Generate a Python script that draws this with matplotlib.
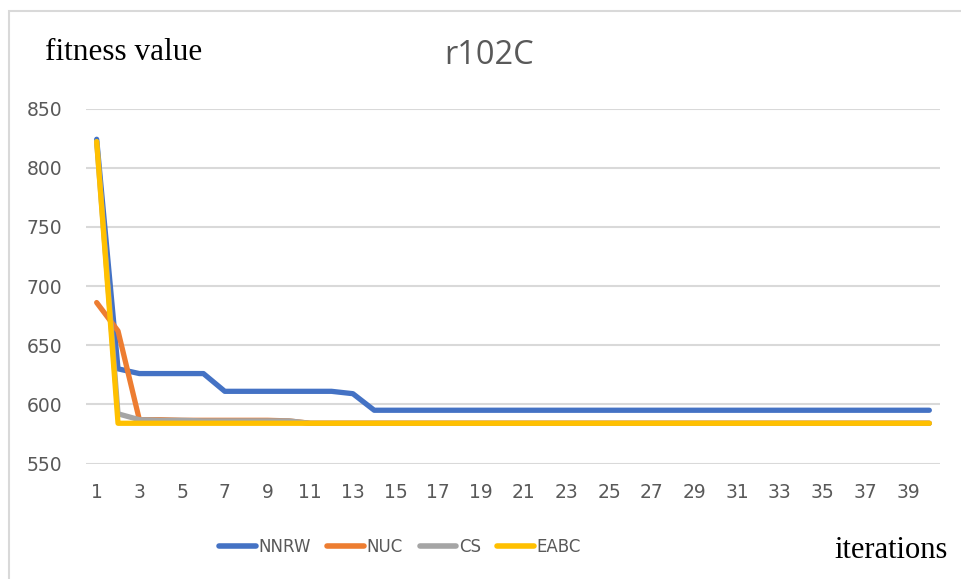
import numpy as np
import matplotlib.pyplot as plt
from matplotlib.patches import Rectangle

# convergence of best fitness per iteration, instance r102C
iterations = np.arange(1, 41)
nnrw = [824, 630, 626, 626, 626, 626, 611, 611, 611, 611, 611, 611, 609] + [595] * 27
nuc = [686, 662, 587, 587, 586.5, 586.5, 586.5, 586.5, 586.5, 586] + [584] * 30
cs = [822, 592, 587, 586.5, 586.5, 586, 586, 586, 586, 586] + [584] * 30
eabc = [822] + [584] * 39

series = [
    ("NNRW", nnrw, "#4472C4"),
    ("NUC", nuc, "#ED7D31"),
    ("CS", cs, "#A5A5A5"),
    ("EABC", eabc, "#FFC000"),
]

fig = plt.figure(figsize=(9.62, 5.79), dpi=100)
W, H = 962, 579

# chart frame (runs off the right and bottom edges)
fig.patches.append(Rectangle((8.5 / W, -0.1), 1.2, 1.1 - 10.5 / H, transform=fig.transFigure,
                             fill=False, edgecolor="#D9D9D9", linewidth=1.5))

ax = fig.add_axes([86 / W, 1 - 463.5 / H, (940 - 86) / W, (463.5 - 108.5) / H])
for name, vals, col in series:
    ax.plot(iterations, vals, color=col, linewidth=3.8, label=name,
            solid_capstyle="round", solid_joinstyle="round")

ax.set_xlim(0.5, 40.5)
ax.set_ylim(550, 850)
ax.set_yticks(np.arange(550, 851, 50))
ax.set_xticks(iterations[::2])
ax.grid(axis="y", color="#D9D9D9", linewidth=1.5)
ax.set_axisbelow(True)
for s in ax.spines.values():
    s.set_visible(False)
ax.tick_params(length=0, labelsize=13.5, labelcolor="#595959")
ax.tick_params(axis="y", pad=17)
ax.tick_params(axis="x", pad=14)

fig.text(489 / W, 1 - 55 / H, "r102C", ha="center", va="center",
         fontsize=23.5, color="#595959", family="Open Sans")
fig.text(45 / W, 1 - 53 / H, "fitness value", ha="left", va="center",
         fontsize=22.5, family="Liberation Serif")
fig.text(948 / W, 1 - 551 / H, "iterations", ha="right", va="center",
         fontsize=22, family="Liberation Serif")

leg = fig.legend(loc="center", bbox_to_anchor=(400 / W, 1 - 547 / H), ncol=4,
                 frameon=False, fontsize=12, handlelength=2.2, handletextpad=0.15,
                 columnspacing=1.0, labelcolor="#595959")
for h in leg.legend_handles:
    h.set_linewidth(4)

fig.savefig("out.png", dpi=100)
